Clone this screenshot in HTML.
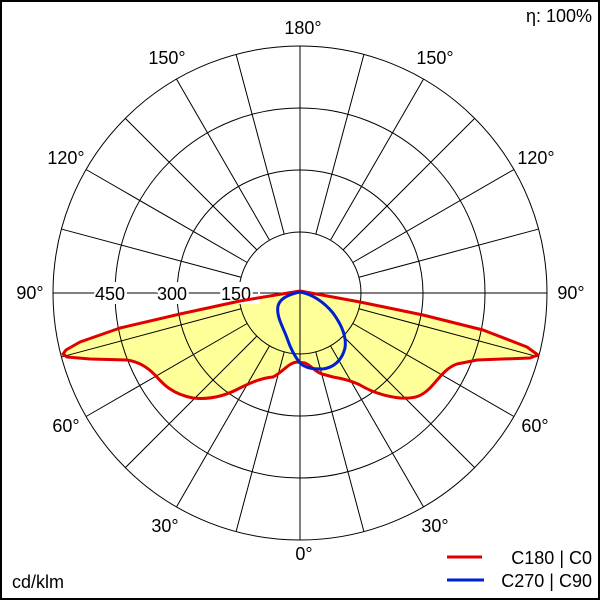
<!DOCTYPE html>
<html><head><style>
html,body{margin:0;padding:0;background:#fff;}
svg{display:block;}
text{font-family:"Liberation Sans",Arial,sans-serif;font-size:18px;fill:#000;}
</style></head><body>
<svg width="600" height="600" viewBox="0 0 600 600" xmlns="http://www.w3.org/2000/svg">
<rect x="1" y="1" width="598" height="598" fill="#fff" stroke="#000" stroke-width="2"/>
<defs>
<path id="red" d="M300,291 L240,301 L180,314 L120,328 L80,342 L66,350 L63,354 L67,357 L90,359 L127,360 C140,362 148,368 155,375 C163,384 172,394 193,398 C210,400 225,396 240,388 C252,382 262,378 273,377 C283,372 288,363 297,362 L305,363 C312,366 315,372 322,374 L333,377 C345,379 352,381 360,385 C370,391 382,396 400,398 C415,399 422,396 430,388 C438,380 445,368 457,364 L477,360 L530,358 L538,355 L527,347 L483,330 L423,315 L360,302 Z"/>
</defs>
<use href="#red" fill="#ffff99"/>
<g stroke="#000" stroke-width="1" fill="none">
<circle cx="300" cy="293" r="61"/>
<circle cx="300" cy="293" r="123"/>
<circle cx="300" cy="293" r="185"/>
<circle cx="300" cy="293" r="247"/>
<line x1="300" y1="46" x2="300" y2="540"/>
<line x1="53" y1="293" x2="547" y2="293"/>
<g id="sp">
<line x1="300" y1="354" x2="300" y2="540" transform="rotate(15 300 293)"/>
<line x1="300" y1="354" x2="300" y2="540" transform="rotate(30 300 293)"/>
<line x1="300" y1="354" x2="300" y2="540" transform="rotate(45 300 293)"/>
<line x1="300" y1="354" x2="300" y2="540" transform="rotate(60 300 293)"/>
<line x1="300" y1="354" x2="300" y2="540" transform="rotate(75 300 293)"/>
<line x1="300" y1="354" x2="300" y2="540" transform="rotate(105 300 293)"/>
<line x1="300" y1="354" x2="300" y2="540" transform="rotate(120 300 293)"/>
<line x1="300" y1="354" x2="300" y2="540" transform="rotate(135 300 293)"/>
<line x1="300" y1="354" x2="300" y2="540" transform="rotate(150 300 293)"/>
<line x1="300" y1="354" x2="300" y2="540" transform="rotate(165 300 293)"/>
</g>
<use href="#sp" transform="translate(600 0) scale(-1 1)"/>
</g>
<rect x="90" y="282" width="170" height="22" fill="#fff"/>
<line x1="88" y1="293" x2="258" y2="293" stroke="#000"/>
<text x="110" y="300" text-anchor="middle" font-size="19" style="paint-order:stroke" stroke="#fff" stroke-width="5">450</text>
<text x="172" y="300" text-anchor="middle" font-size="19" style="paint-order:stroke" stroke="#fff" stroke-width="5">300</text>
<text x="236" y="300" text-anchor="middle" font-size="19" style="paint-order:stroke" stroke="#fff" stroke-width="5">150</text>
<use href="#red" fill="none" stroke="#e00000" stroke-width="3" stroke-linejoin="round"/>
<path d="M300,292 C290,294 280,298 278,306 C276,316 283,327 287,338 C291,350 296,358 300,363 C305,368 312,369 322,369 C334,368 342,360 345,348 C347,336 341,324 333,313 C324,302 312,294 300,292 Z" fill="none" stroke="#0020d0" stroke-width="3"/>
<g>
<text x="303" y="34" text-anchor="middle">180°</text>
<text x="167" y="64" text-anchor="middle">150°</text>
<text x="435" y="64" text-anchor="middle">150°</text>
<text x="66" y="164" text-anchor="middle">120°</text>
<text x="536" y="164" text-anchor="middle">120°</text>
<text x="30" y="299" text-anchor="middle">90°</text>
<text x="571" y="299" text-anchor="middle">90°</text>
<text x="66" y="432" text-anchor="middle">60°</text>
<text x="535" y="432" text-anchor="middle">60°</text>
<text x="165" y="532" text-anchor="middle">30°</text>
<text x="435" y="532" text-anchor="middle">30°</text>
<text x="304" y="560" text-anchor="middle">0°</text>
<text x="592" y="22" text-anchor="end" font-size="17">η: 100%</text>
<text x="12" y="588" font-size="17">cd/klm</text>
<line x1="447" y1="557" x2="482" y2="557" stroke="#e00000" stroke-width="3"/>
<text x="592" y="564" text-anchor="end" font-size="19">C180 | C0</text>
<line x1="447" y1="580" x2="484" y2="580" stroke="#0020d0" stroke-width="3"/>
<text x="592" y="587" text-anchor="end" font-size="19">C270 | C90</text>
</g>
</svg>
</body></html>
